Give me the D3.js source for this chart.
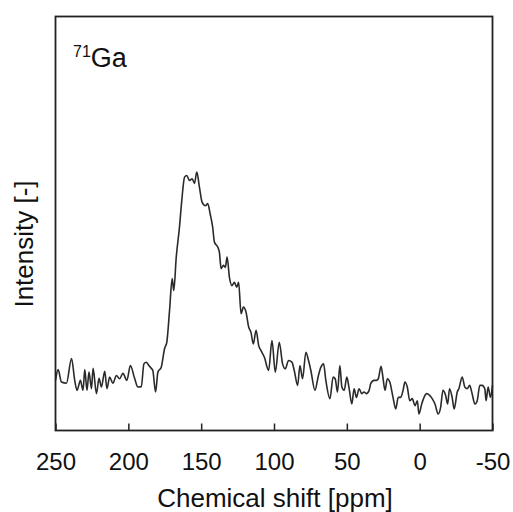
<!DOCTYPE html>
<html>
<head>
<meta charset="utf-8">
<script src="https://cdn.jsdelivr.net/npm/d3@7"></script>
<style>
  body { margin: 0; background: #fff; }
  text { font-family: "Liberation Sans", Arial, sans-serif; fill: #111; }
</style>
</head>
<body>
<div id="chart"></div>
<script>
// chemical shift [ppm]
var shifts = [250, 248.2, 245.9, 242.5, 239.0, 236.8, 235.2, 232.9, 231.1, 229.9, 228.4, 227.0, 225.3, 224.2, 221.9, 220.1,
  218.5, 216.2, 214.7, 212.8, 210.6, 208.2, 206.0, 203.7, 201.0, 198.6, 195.7, 193.4, 191.1, 189.3, 187.7, 185.9,
  184.2, 183.2, 181.3, 179.7, 177.4, 175.1, 173.6, 171.7, 169.9, 168.8, 167.1, 164.9, 163.3, 161.4, 159.9, 158.0,
  156.2, 154.6, 153.0, 151.2, 149.3, 147.1, 145.5, 143.8, 142.1, 140.9, 138.6, 137.5, 136.3, 134.7, 133.4, 132.2,
  130.6, 128.8, 127.2, 125.6, 124.3, 122.6, 121.0, 119.2, 117.4, 115.8, 114.2, 112.3, 110.5, 108.9, 106.6, 103.7,
  101.4, 99.1, 96.4, 94.1, 92.3, 90.0, 87.7, 86.1, 83.8, 82.2, 80.4, 78.1, 76.3, 74.7, 71.9, 69.5,
  67.8, 66.0, 64.4, 61.6, 59.4, 58.0, 56.4, 54.8, 53.4, 51.8, 50.0, 48.4, 46.6, 45.0, 43.4, 41.6,
  39.7, 38.2, 36.6, 34.7, 33.6, 31.3, 29.7, 28.4, 26.5, 25.1, 23.8, 22.2, 20.5, 18.3, 16.4, 14.7,
  13.0, 11.4, 10.1, 8.5, 6.8, 5.1, 3.2, 1.6, 0.5, -1.4, -3.0, -4.8, -6.8, -8.6, -10.5, -12.7,
  -14.4, -16.0, -17.8, -19.2, -20.5, -22.3, -23.7, -25.8, -26.9, -29.2, -31.0, -32.6, -34.3, -36.0, -37.9, -39.5,
  -41.3, -42.9, -44.7, -45.6, -47.0, -48.6, -50];

// intensity [-] (arbitrary units, 0..100 of the frame height)
var intensity = [12.1, 14.7, 11.7, 11.4, 17.4, 12.1, 9.7, 12.1, 9.7, 14.7, 9.7, 14.1, 10.1, 15.0, 8.9, 12.6,
  10.5, 14.3, 10.1, 12.9, 11.4, 13.3, 12.5, 13.8, 12.1, 15.7, 12.6, 10.5, 10.6, 16.1, 16.5, 15.7,
  15.0, 14.5, 9.3, 14.1, 15.3, 19.8, 21.3, 29.0, 36.7, 33.8, 41.9, 49.1, 55.6, 61.2, 61.6, 60.4,
  60.8, 59.7, 62.4, 58.8, 55.1, 54.3, 54.8, 52.3, 49.1, 45.5, 44.3, 43.1, 39.1, 39.9, 39.4, 41.9,
  37.0, 35.0, 35.8, 34.6, 35.8, 28.2, 29.8, 28.6, 25.0, 23.7, 20.9, 24.2, 20.5, 19.3, 17.7, 14.5,
  21.7, 14.1, 21.3, 16.1, 14.9, 16.9, 16.5, 14.5, 10.9, 15.7, 12.5, 18.9, 16.9, 14.5, 9.7, 13.3,
  15.3, 16.1, 12.1, 7.7, 12.9, 12.5, 9.3, 15.7, 10.5, 9.7, 12.9, 10.1, 6.4, 10.1, 8.0, 10.1,
  8.9, 9.3, 8.9, 9.7, 11.3, 12.1, 12.1, 12.5, 15.5, 12.5, 9.7, 12.5, 11.7, 8.0, 5.2, 8.0,
  8.0, 9.7, 11.7, 10.5, 7.2, 7.7, 6.0, 7.2, 4.0, 6.4, 8.0, 8.9, 8.5, 7.7, 6.4, 4.0,
  5.6, 9.7, 8.5, 6.4, 10.1, 8.0, 5.2, 9.3, 10.1, 12.9, 10.5, 10.1, 10.9, 8.9, 6.4, 7.2,
  10.9, 10.9, 10.1, 7.2, 10.5, 8.0, 10.9];

var xTicks = [250, 200, 150, 100, 50, 0, -50];
var nucleus = "71", element = "Ga";

var width = 513, height = 512,
    margin = { left: 55.5, right: 20.5, top: 16.5, bottom: 81.5 };
var w = width - margin.left - margin.right,
    h = height - margin.top - margin.bottom;

var xScale = d3.scaleLinear().domain([250, -50]).range([0, w]);
var yScale = d3.scaleLinear().domain([0, 100]).range([h, 0]);

var data = shifts.map(function(s, i) { return [s, intensity[i]]; });

var svg = d3.select("#chart").append("svg")
    .attr("width", width)
    .attr("height", height)
  .append("g")
    .attr("transform", "translate(" + margin.left + "," + margin.top + ")");

// spectrum
var line = d3.line()
    .curve(d3.curveMonotoneX)
    .x(function(d) { return xScale(d[0]); })
    .y(function(d) { return yScale(d[1]); });

svg.append("path")
    .datum(data)
    .attr("d", line)
    .attr("fill", "none")
    .attr("stroke", "#2a2a2a")
    .attr("stroke-width", 1.6)
    .attr("stroke-linejoin", "round");

// x axis, ticks pointing in
var xAxis = d3.axisBottom(xScale)
    .tickValues(xTicks)
    .tickSizeInner(-7)
    .tickSizeOuter(0)
    .tickPadding(22)
    .tickFormat(function(d) { return String(d); });

var gx = svg.append("g")
    .attr("transform", "translate(0," + h + ")")
    .call(xAxis);
gx.select(".domain").remove();
gx.selectAll(".tick line").attr("stroke", "#222").attr("stroke-width", 1.5);
gx.selectAll(".tick text")
    .style("font-size", "24px")
    .style("font-family", "'Liberation Sans', Arial, sans-serif")
    .attr("fill", "#111");

// frame
svg.append("rect")
    .attr("width", w)
    .attr("height", h)
    .attr("fill", "none")
    .attr("stroke", "#222")
    .attr("stroke-width", 1.8);

// axis titles
svg.append("text")
    .attr("x", 275 - margin.left)
    .attr("y", 507 - margin.top)
    .attr("text-anchor", "middle")
    .style("font-size", "26px")
    .text("Chemical shift [ppm]");

svg.append("text")
    .attr("transform", "translate(" + (33 - margin.left) + "," + (244 - margin.top) + ") rotate(-90)")
    .attr("text-anchor", "middle")
    .style("font-size", "26px")
    .text("Intensity [-]");

// nucleus label
var lab = svg.append("text")
    .attr("x", 73 - margin.left)
    .attr("y", 67 - margin.top);
lab.append("tspan")
    .attr("dy", -10)
    .style("font-size", "16px")
    .text(nucleus);
lab.append("tspan")
    .attr("dy", 10)
    .style("font-size", "27px")
    .text(element);
</script>
</body>
</html>
